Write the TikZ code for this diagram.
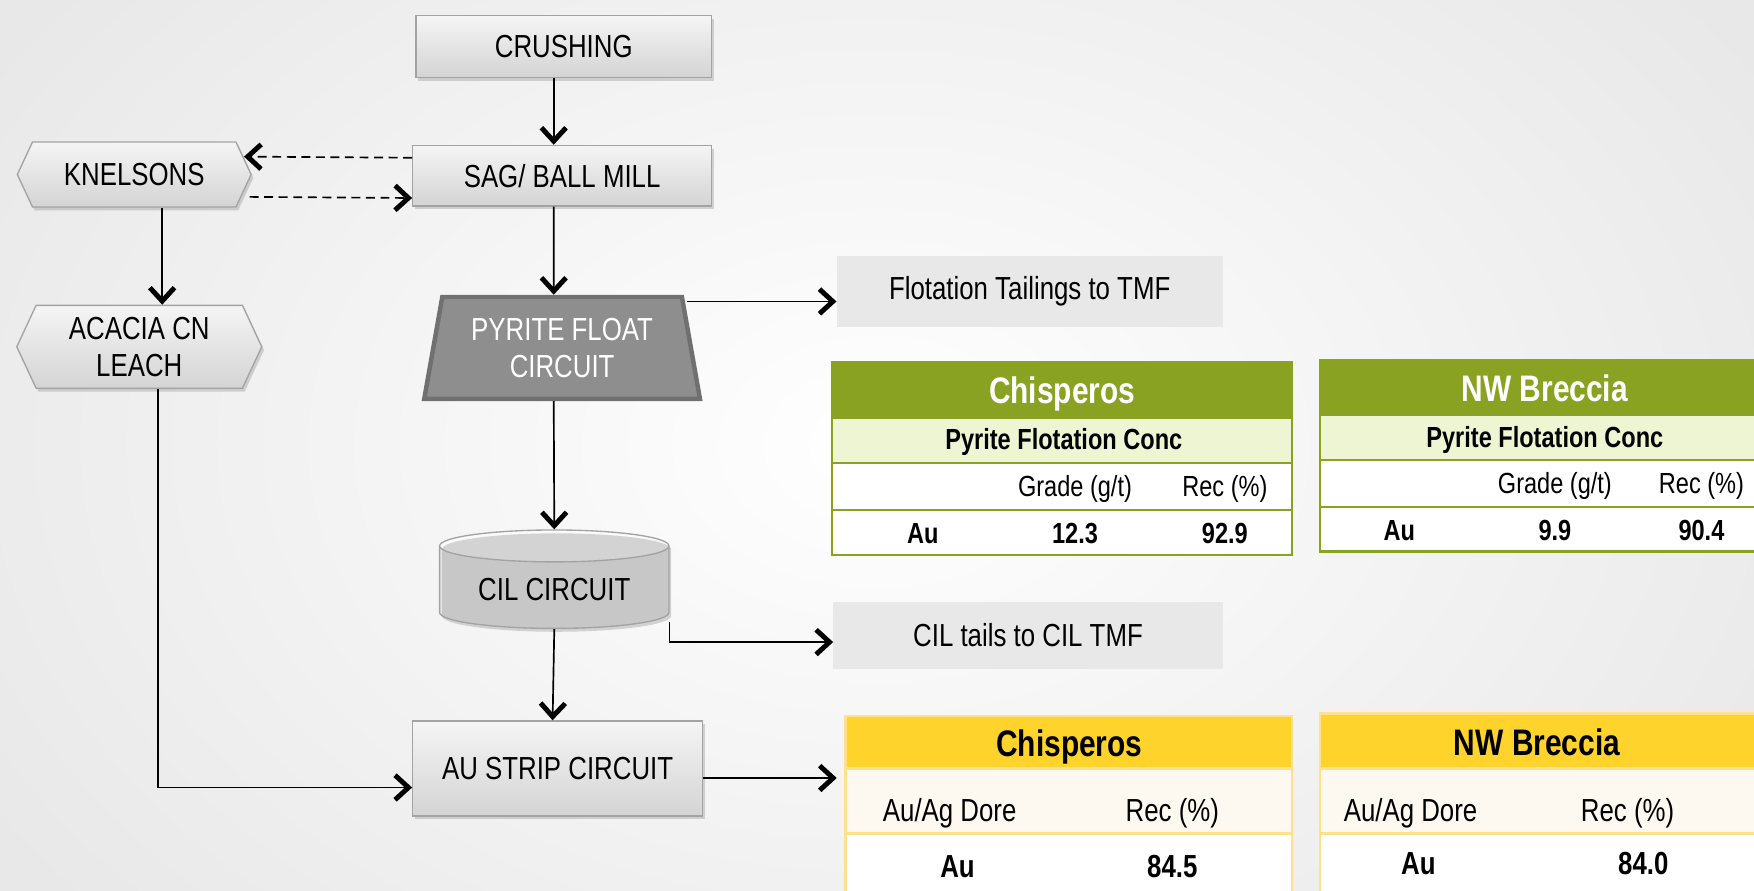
\documentclass[tikz,border=0pt]{standalone}
\usepackage{fontspec}
\setmainfont{Liberation Sans}[FakeStretch=0.81]
\usetikzlibrary{arrows.meta,shapes.geometric,shapes.symbols,shadows}

\definecolor{grnhead}{HTML}{8AA222}
\definecolor{grnsub}{HTML}{EDF5D3}
\definecolor{ylwhead}{HTML}{FED32B}
\definecolor{ylwline}{HTML}{FFE08C}
\definecolor{ylwsub}{HTML}{FDF9F1}
\definecolor{boxline}{HTML}{A3A3A3}
\definecolor{tailfill}{HTML}{E8E8E8}
\definecolor{floatfill}{HTML}{8E8E8E}
\definecolor{floatline}{HTML}{707070}

\tikzset{
  procbox/.style={draw=boxline,line width=1.2pt,top color=black!4,bottom color=black!17,
    drop shadow={shadow xshift=2pt,shadow yshift=-3pt,opacity=0.35,fill=black!45},
    font=\fontsize{28.5}{33}\selectfont,align=center},
  hexbox/.style={procbox,shape=signal,signal to=west and east,signal pointer angle=130,inner sep=3pt},
  floatbox/.style={shape=trapezium,trapezium left angle=78,trapezium right angle=78,
    trapezium stretches=true,minimum width=247,minimum height=91,fill=floatfill,draw=floatline,
    line width=4pt,text=white,font=\fontsize{28.5}{33}\selectfont,align=center},
  cylbox/.style={shape=cylinder,shape border rotate=90,aspect=0.2,draw=boxline,line width=1.2pt,
    cylinder uses custom fill,cylinder body fill=black!9,cylinder end fill=black!2,
    minimum width=205,minimum height=88,font=\fontsize{28.5}{33}\selectfont,
    drop shadow={shadow xshift=2pt,shadow yshift=-3pt,opacity=0.35,fill=black!45}},
  tailbox/.style={fill=tailfill,font=\fontsize{28.5}{33}\selectfont},
  flow/.style={line width=1.5pt,-{Straight Barb[length=12pt,width=22pt,line width=4.4pt 0]}},
  headtxt/.style={font=\fontsize{33}{38}\selectfont\bfseries,anchor=base},
  celltxt/.style={font=\fontsize{26}{30}\selectfont,anchor=base},
  boldtxt/.style={font=\fontsize{26}{30}\selectfont\bfseries,anchor=base},
  ycelltxt/.style={font=\fontsize{28.5}{32}\selectfont,anchor=base},
  yboldtxt/.style={font=\fontsize{28.5}{32}\selectfont\bfseries,anchor=base},
}

\begin{document}
\begin{tikzpicture}[x=1pt,y=-1pt]
  \useasboundingbox (0,0) rectangle (1568,796);
  \clip (0,0) rectangle (1568,796);
  \shade[inner color=white,outer color=black!9] (-150,-250) rectangle (1718,1046);

  \node[procbox,minimum width=264,minimum height=55] (crush) at (504,41.5) {CRUSHING};
  \node[procbox,minimum width=267,minimum height=54] (sag) at (502.5,157) {SAG/ BALL MILL};
  \node[hexbox,minimum width=209,minimum height=58] (knel) at (120,156) {KNELSONS};
  \node[hexbox,minimum width=219,minimum height=74] (acacia) at (124.5,310) {ACACIA CN\\LEACH};
  \node[floatbox] (pyrite) at (502.5,311) {PYRITE FLOAT\\CIRCUIT};
  \node[cylbox] (cil) at (495.5,527) {CIL CIRCUIT};
  \node[procbox,minimum width=259,minimum height=85] (strip) at (498.5,687) {AU STRIP CIRCUIT};
  \node[tailbox,minimum width=345,minimum height=63] (flotail) at (920.5,260.5) {Flotation Tailings to TMF};
  \node[tailbox,minimum width=348,minimum height=60] (ciltail) at (919,568) {CIL tails to CIL TMF};

  % pyrite flotation conc
  \path[draw=grnhead,line width=2pt,fill=grnhead] (744,324) rectangle (1155,374);
  \path[draw=grnhead,line width=2pt,fill=grnsub] (744,374) rectangle (1155,414);
  \path[draw=grnhead,line width=2pt,fill=white] (744,414) rectangle (1155,456) (744,456) rectangle (1155,496);
  \node[headtxt,text=white] (gchis) at (949.5,361) {Chisperos};
  \node[boldtxt] (gchissub) at (951,402) {Pyrite Flotation Conc};
  \node[celltxt] (gchisgr) at (961,444) {Grade (g/t)};
  \node[celltxt] (gchisrec) at (1095,444) {Rec (\%)};
  \node[boldtxt] (gchisau) at (825,485.5) {Au};
  \node[boldtxt] (gchisaugr) at (961,485.5) {12.3};
  \node[boldtxt] (gchisaurec) at (1095,485.5) {92.9};

  \path[draw=grnhead,line width=2pt,fill=grnhead] (1180,322) rectangle (1580,371);
  \path[draw=grnhead,line width=2pt,fill=grnsub] (1180,371) rectangle (1580,411);
  \path[draw=grnhead,line width=2pt,fill=white] (1180,411) rectangle (1580,453) (1180,453) rectangle (1580,493);
  \node[headtxt,text=white] (gnw) at (1381,359) {NW Breccia};
  \node[boldtxt] (gnwsub) at (1381,400) {Pyrite Flotation Conc};
  \node[celltxt] (gnwgr) at (1390,441.5) {Grade (g/t)};
  \node[celltxt] (gnwrec) at (1521,441.5) {Rec (\%)};
  \node[boldtxt] (gnwau) at (1251,483) {Au};
  \node[boldtxt] (gnwaugr) at (1390,483) {9.9};
  \node[boldtxt] (gnwaurec) at (1521,483) {90.4};

  % dore
  \path[draw=ylwline,line width=2.5pt,fill=ylwhead] (756,640) rectangle (1155,687);
  \path[draw=ylwline,line width=2.5pt,fill=ylwsub] (756,687) rectangle (1155,745);
  \path[draw=ylwline,line width=2.5pt,fill=white] (756,745) rectangle (1155,810);
  \coordinate (ychisin) at (748,695.5);
  \node[headtxt] (ychis) at (956,676.5) {Chisperos};
  \node[ycelltxt] (ychisdore) at (849,734.5) {Au/Ag Dore};
  \node[ycelltxt] (ychisrec) at (1048,734.5) {Rec (\%)};
  \node[yboldtxt] (ychisau) at (856,784) {Au};
  \node[yboldtxt] (ychisaurec) at (1048,784) {84.5};

  \path[draw=ylwline,line width=2.5pt,fill=ylwhead] (1180,638) rectangle (1580,687);
  \path[draw=ylwline,line width=2.5pt,fill=ylwsub] (1180,687) rectangle (1580,745);
  \path[draw=ylwline,line width=2.5pt,fill=white] (1180,745) rectangle (1580,810);
  \node[headtxt] (ynw) at (1374,675) {NW Breccia};
  \node[ycelltxt] (ynwdore) at (1261,734.5) {Au/Ag Dore};
  \node[ycelltxt] (ynwrec) at (1455,734.5) {Rec (\%)};
  \node[yboldtxt] (ynwau) at (1268,782) {Au};
  \node[yboldtxt] (ynwaurec) at (1469,782) {84.0};

  \draw[flow] ([xshift=-9pt]crush.south) -- ([xshift=-7.5pt]sag.north);
  \draw[flow] ([xshift=-7.5pt]sag.south) -- ([xshift=-7.5pt]pyrite.north);
  \draw[flow,dash pattern=on 8pt off 5pt] ([yshift=16pt]sag.west) -- ([xshift=-7pt,yshift=16pt]knel.east);
  \draw[flow,dash pattern=on 8pt off 5pt] ([xshift=-2pt,yshift=-20pt]knel.east) -- ([yshift=-20pt]sag.west);
  \draw[flow] ([xshift=25pt]knel.south) -- ([xshift=20.5pt]acacia.north);
  \draw[flow] ([xshift=3pt,yshift=-6pt]pyrite.top right corner) -- ([yshift=-6pt]pyrite.top right corner -| flotail.west);
  \draw[flow] ([xshift=-7.5pt]pyrite.south) -- (cil.north);
  \draw[flow] ([yshift=-29pt]cil.east) |- ([yshift=-6pt]ciltail.west);
  \draw[flow] (cil.south) -- ([xshift=-4.5pt]strip.north);
  \draw[flow] ([xshift=16.5pt]acacia.south) |- ([yshift=-17pt]strip.west);
  \draw[flow] ([yshift=-8.5pt]strip.east) -- (ychisin);
\end{tikzpicture}
\end{document}
